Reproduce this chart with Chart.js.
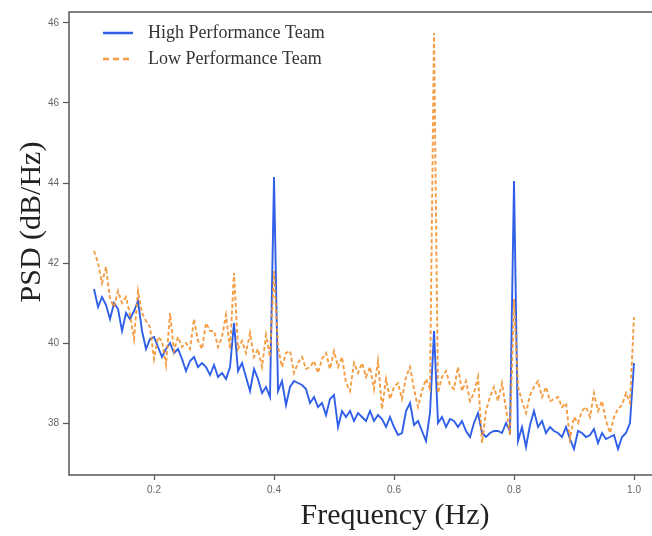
<!DOCTYPE html>
<html>
<head>
<meta charset="utf-8">
<script src="https://cdn.jsdelivr.net/npm/chart.js@4.4.1/dist/chart.umd.min.js"></script>
<style>
  html, body { margin: 0; padding: 0; background: #ffffff; overflow: hidden; }
  #wrap { position: relative; width: 700px; height: 536px; }
</style>
</head>
<body>
<div id="wrap"><canvas id="c"></canvas></div>
<script>
// ---- data ----
const frequencies = [0.1,0.1067,0.1133,0.12,0.1267,0.1333,0.14,0.1467,0.1533,0.16,
0.1667,0.1733,0.18,0.1867,0.1933,0.2,0.2067,0.2133,0.22,0.2267,
0.2333,0.24,0.2467,0.2533,0.26,0.2667,0.2733,0.28,0.2867,0.2933,
0.3,0.3067,0.3133,0.32,0.3267,0.3333,0.34,0.3467,0.3533,0.36,
0.3667,0.3733,0.38,0.3867,0.3933,0.4,0.4067,0.4133,0.42,0.4267,
0.4333,0.44,0.4467,0.4533,0.46,0.4667,0.4733,0.48,0.4867,0.4933,
0.5,0.5067,0.5133,0.52,0.5267,0.5333,0.54,0.5467,0.5533,0.56,
0.5667,0.5733,0.58,0.5867,0.5933,0.6,0.6067,0.6133,0.62,0.6267,
0.6333,0.64,0.6467,0.6533,0.66,0.6667,0.6733,0.68,0.6867,0.6933,
0.7,0.7067,0.7133,0.72,0.7267,0.7333,0.74,0.7467,0.7533,0.76,
0.7667,0.7733,0.78,0.7867,0.7933,0.8,0.8067,0.8133,0.82,0.8267,
0.8333,0.84,0.8467,0.8533,0.86,0.8667,0.8733,0.88,0.8867,0.8933,
0.9,0.9067,0.9133,0.92,0.9267,0.9333,0.94,0.9467,0.9533,0.96,
0.9667,0.9733,0.98,0.9867,0.9933,1.0];

const highPerformance = [41.35,40.9,41.15,40.95,40.6,41.0,40.85,40.3,40.75,40.6,
40.8,41.05,40.3,39.85,40.1,40.15,39.9,39.65,39.85,40.0,
39.75,39.85,39.6,39.3,39.55,39.65,39.4,39.5,39.4,39.2,
39.45,39.15,39.25,39.1,39.4,40.5,39.3,39.5,39.15,38.8,
39.35,39.1,38.75,38.9,38.65,44.15,38.8,39.05,38.45,38.9,
39.05,39.0,38.95,38.85,38.5,38.65,38.4,38.5,38.2,38.6,
38.7,37.9,38.3,38.15,38.3,38.05,38.25,38.15,38.05,38.3,
38.05,38.2,38.1,37.9,38.15,37.9,37.7,37.75,38.3,38.5,
37.95,38.05,37.8,37.55,38.25,40.3,38.0,38.15,37.9,38.1,
38.05,37.9,38.05,37.8,37.65,38.0,38.25,37.75,37.65,37.75,
37.8,37.8,37.75,38.0,37.8,44.05,37.55,37.9,37.4,37.95,
38.3,37.9,38.05,37.75,37.9,37.8,37.75,37.65,37.9,37.6,
37.35,37.8,37.75,37.65,37.7,37.85,37.5,37.75,37.6,37.65,
37.7,37.35,37.65,37.75,38.0,39.5];

const lowPerformance = [42.3,42.0,41.5,41.9,41.1,40.9,41.3,41.0,41.15,40.7,
40.1,41.3,40.75,40.55,40.4,39.6,40.15,40.05,39.45,40.75,
39.8,40.15,39.9,40.0,39.85,40.6,40.05,39.85,40.5,40.3,
40.3,39.9,40.15,40.7,39.85,41.75,39.85,40.05,39.75,40.25,
39.65,39.85,39.4,40.2,39.65,41.8,39.9,39.4,39.75,39.8,
39.25,39.5,39.65,39.35,39.4,39.55,39.25,39.6,39.75,39.35,
39.8,39.4,39.65,39.0,38.8,39.5,39.25,39.5,39.15,39.4,
38.85,39.55,38.35,39.1,38.6,38.9,39.0,38.6,39.15,39.4,
38.85,38.4,38.8,39.1,38.85,47.75,38.75,39.15,39.3,38.95,
38.85,39.4,38.8,39.05,38.55,38.75,39.15,37.5,38.3,38.65,
38.9,38.55,39.0,38.35,37.7,41.1,38.9,38.55,38.25,38.7,
38.9,39.05,38.65,38.9,38.55,38.6,38.65,38.4,38.5,37.6,
38.15,38.0,38.3,38.4,38.15,38.75,38.3,38.55,38.05,37.75,
38.15,38.35,38.45,38.75,38.5,40.65];

const seriesNames = ['High Performance Team', 'Low Performance Team'];
const xTickValues = [0.2, 0.4, 0.6, 0.8, 1.0];
const xTickLabels = ['0.2', '0.4', '0.6', '0.8', '1.0'];
const yTickValues = [38, 40, 42, 44, 46, 48];
const yTickLabels = ['38', '40', '42', '44', '46', '46'];
const xTitle = 'Frequency (Hz)';
const yTitle = 'PSD (dB/Hz)';

// ---- helpers ----
const toPoints = (vals) => vals.map((v, i) => ({ x: frequencies[i], y: v }));
const colors = ['#2f5fe8', 'rgba(243,146,48,0.9)'];
const legendDash = [[], [6, 4]];

// legend swatch: 30px line + 6px transparent gap, as an image point style
function makeSwatch(color, dash) {
  const c = document.createElement('canvas');
  c.width = 36; c.height = 6;
  const g = c.getContext('2d');
  g.strokeStyle = color;
  g.lineWidth = 2.5;
  g.setLineDash(dash);
  g.beginPath();
  g.moveTo(0, 3); g.lineTo(30, 3);
  g.stroke();
  return c;
}
const swatches = [makeSwatch(colors[0], legendDash[0]), makeSwatch(colors[1], legendDash[1])];

const framePlugin = {
  id: 'frame',
  afterLayout(chart) {
    const lg = chart.legend;
    if (lg) { lg.left += 26; lg.right += 26; lg.top += 16; lg.bottom += 16; }
  },
  beforeDatasetsDraw(chart) {
    const { ctx, chartArea: a } = chart;
    ctx.save();
    ctx.strokeStyle = '#555555';
    ctx.lineWidth = 1.5;
    ctx.strokeRect(a.left, a.top, a.right - a.left, a.bottom - a.top);
    ctx.restore();
  },
  afterDraw(chart) {
    const { ctx } = chart;
    ctx.save();
    ctx.fillStyle = '#222222';
    ctx.font = '30px "Liberation Serif", "Times New Roman", serif';
    ctx.textAlign = 'center';
    ctx.textBaseline = 'middle';
    ctx.fillText(xTitle, 395, 516);
    ctx.translate(32, 222);
    ctx.rotate(-Math.PI / 2);
    ctx.fillText(yTitle, 0, 0);
    ctx.restore();
  }
};

new Chart(document.getElementById('c'), {
  type: 'line',
  data: {
    datasets: [
      {
        label: seriesNames[0],
        data: toPoints(highPerformance),
        borderColor: colors[0],
        backgroundColor: colors[0],
        borderWidth: 1.9,
        pointRadius: 0,
        tension: 0,
        order: 1
      },
      {
        label: seriesNames[1],
        data: toPoints(lowPerformance),
        borderColor: colors[1],
        backgroundColor: colors[1],
        borderWidth: 1.9,
        borderDash: [4, 2.5],
        pointRadius: 0,
        tension: 0,
        order: 0
      }
    ]
  },
  options: {
    responsive: true,
    maintainAspectRatio: false,
    animation: false,
    layout: { padding: { left: 0, top: 12, right: 39, bottom: 0 } },
    scales: {
      x: {
        type: 'linear',
        min: 0.0583,
        max: 1.045,
        afterFit: (s) => { s.height = 61; },
        afterBuildTicks: (s) => { s.ticks = xTickValues.map(v => ({ value: v })); },
        ticks: {
          callback: (v) => xTickLabels[xTickValues.indexOf(v)],
          color: '#666666',
          font: { family: '"Liberation Sans", Arial, sans-serif', size: 10 },
          padding: 4,
          maxRotation: 0
        },
        grid: { drawOnChartArea: false, drawTicks: true, tickLength: 5, tickColor: '#555555', tickWidth: 1.2 },
        border: { display: false }
      },
      y: {
        type: 'linear',
        min: 36.7,
        max: 48.275,
        afterFit: (s) => { s.width = 69; },
        afterBuildTicks: (s) => { s.ticks = yTickValues.map(v => ({ value: v })); },
        ticks: {
          callback: (v) => yTickLabels[yTickValues.indexOf(v)],
          color: '#666666',
          font: { family: '"Liberation Sans", Arial, sans-serif', size: 10 },
          padding: 4
        },
        grid: { drawOnChartArea: false, drawTicks: true, tickLength: 6, tickColor: '#555555', tickWidth: 1.2 },
        border: { display: false }
      }
    },
    plugins: {
      legend: {
        position: 'chartArea',
        align: 'start',
        labels: {
          usePointStyle: true,
          pointStyleWidth: 36,
          padding: 8,
          color: '#333333',
          font: { family: '"Liberation Serif", "Times New Roman", serif', size: 18 },
          sort: (a, b) => a.datasetIndex - b.datasetIndex,
          generateLabels: (chart) => Chart.defaults.plugins.legend.labels.generateLabels(chart)
            .map(l => Object.assign(l, { pointStyle: swatches[l.datasetIndex] }))
        }
      },
      tooltip: { enabled: false },
      title: { display: false }
    }
  },
  plugins: [framePlugin]
});
</script>
</body>
</html>
